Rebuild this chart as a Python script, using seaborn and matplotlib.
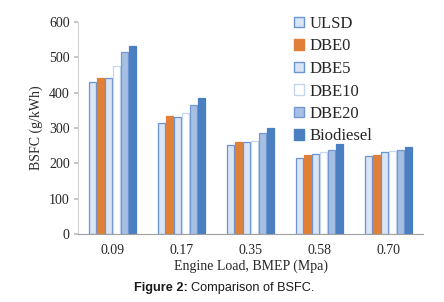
import matplotlib
matplotlib.use("Agg")
import matplotlib.pyplot as plt
import seaborn as sns
import pandas as pd
from matplotlib.patches import Patch

loads = ["0.09", "0.17", "0.35", "0.58", "0.70"]
fuels = ["ULSD", "DBE0", "DBE5", "DBE10", "DBE20", "Biodiesel"]
ulsd = [431, 313, 251, 214, 222]
dbe0 = [441, 333, 260, 223, 225]
dbe5 = [442, 332, 259, 226, 231]
dbe10 = [476, 342, 263, 233, 235]
dbe20 = [514, 364, 286, 238, 238]
biodiesel = [531, 386, 301, 255, 247]

values = [ulsd, dbe0, dbe5, dbe10, dbe20, biodiesel]
rows = []
for f, vals in zip(fuels, values):
    for l, v in zip(loads, vals):
        rows.append({"Load": l, "Fuel": f, "BSFC": v})
df = pd.DataFrame(rows)

sns.set_theme(style="white")
plt.rcParams["font.family"] = ["Liberation Serif", "DejaVu Serif"]

faces = ["#d9e4f4", "#e07f38", "#d9e4f4", "#ffffff", "#a6bfe2", "#4a7fc2"]
edges = ["#6a94d2", "#e07f38", "#6a94d2", "#c6d6ef", "#7398d2", "#4a7fc2"]

fig = plt.figure(figsize=(4.44, 3.02), dpi=100)
ax = fig.add_axes([78/444, 1-234/302, 345/444, 212/302])
sns.barplot(data=df, x="Load", y="BSFC", hue="Fuel", order=loads, hue_order=fuels,
            width=0.68, gap=0.1, ax=ax, legend=False)
for cont, fc, ec in zip(ax.containers, faces, edges):
    for p in cont:
        p.set_facecolor(fc)
        p.set_edgecolor(ec)
        p.set_linewidth(0.9)

ax.set_ylim(0, 600)
ax.set_xlim(-0.5, 4.5)
ax.set_yticks([0, 100, 200, 300, 400, 500, 600])
ax.tick_params(axis="y", labelsize=10, length=3, color="#bfbfbf", left=True, pad=3,
               labelcolor="#262626")
ax.tick_params(axis="x", labelsize=10, length=0, pad=7, labelcolor="#262626")
ax.set_ylabel("BSFC (g/kWh)", fontsize=10, labelpad=4, color="#262626")
ax.set_xlabel("Engine Load, BMEP (Mpa)", fontsize=10, labelpad=2, color="#262626")
for s in ["top", "right"]:
    ax.spines[s].set_visible(False)
ax.spines["left"].set_color("#d0d0d0")
ax.spines["bottom"].set_color("#a0a0a0")
ax.spines["left"].set_linewidth(0.8)
ax.spines["bottom"].set_linewidth(0.8)

handles = [Patch(facecolor=fc, edgecolor=ec, linewidth=1.0) for fc, ec in zip(faces, edges)]
leg = fig.legend(handles, fuels, loc="upper left", bbox_to_anchor=(294/444, 1-16/302),
                 frameon=False, fontsize=12, handlelength=0.6, handleheight=0.6,
                 handletextpad=0.35, labelspacing=0.39, borderpad=0, borderaxespad=0)
for t in leg.get_texts():
    t.set_color("#262626")

# caption in two parts
cy = 1 - 288/302
a = fig.text(134/444, cy, "Figure 2:", ha="left", va="center", fontsize=9.2,
             fontweight="bold", family="Liberation Sans", color="#1a1a1a")
fig.canvas.draw()
bb = a.get_window_extent()
fig.text(bb.x1/444 + 3/444, cy, "Comparison of BSFC.", ha="left", va="center", fontsize=9.2,
         family="Liberation Sans", color="#1a1a1a")

fig.savefig("out.png", dpi=100)
